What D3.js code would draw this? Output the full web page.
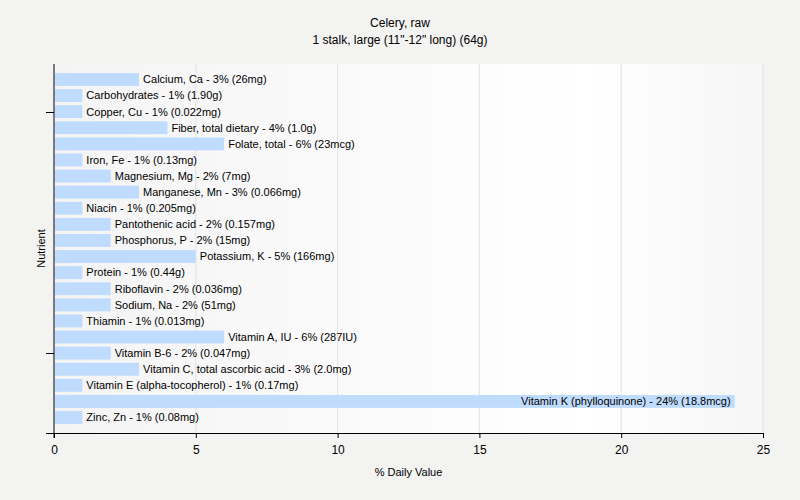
<!DOCTYPE html>
<html lang="en">
<head>
  <meta charset="UTF-8">
  <script src="https://d3js.org/d3.v7.min.js"></script>
  <style>
    body { margin: 0; background: #f3f3f2; }
    text { font-family: "Liberation Sans", Arial, sans-serif; fill: #000; }
  </style>
</head>
<body>
  <script>
    // data
    var nutrients = ["Calcium, Ca", "Carbohydrates", "Copper, Cu", "Fiber, total dietary",
      "Folate, total", "Iron, Fe", "Magnesium, Mg", "Manganese, Mn", "Niacin",
      "Pantothenic acid", "Phosphorus, P", "Potassium, K", "Protein", "Riboflavin",
      "Sodium, Na", "Thiamin", "Vitamin A, IU", "Vitamin B-6", "Vitamin C, total ascorbic acid",
      "Vitamin E (alpha-tocopherol)", "Vitamin K (phylloquinone)", "Zinc, Zn"];
    var dailyValue = [3, 1, 1, 4, 6, 1, 2, 3, 1, 2, 2, 5, 1, 2, 2, 1, 6, 2, 3, 1, 24, 1];
    var amounts = ["26mg", "1.90g", "0.022mg", "1.0g", "23mcg", "0.13mg", "7mg", "0.066mg",
      "0.205mg", "0.157mg", "15mg", "166mg", "0.44g", "0.036mg", "51mg", "0.013mg",
      "287IU", "0.047mg", "2.0mg", "0.17mg", "18.8mcg", "0.08mg"];
    var xTicks = [0, 5, 10, 15, 20, 25];
    var yTickNames = ["Copper, Cu", "Vitamin B-6"];

    var W = 800, H = 500;
    var margin = { top: 64, right: 37, bottom: 67, left: 54 };
    var w = W - margin.left - margin.right;
    var h = H - margin.top - margin.bottom;

    var dataset = nutrients.map(function (n, i) {
      return { name: n, dv: dailyValue[i], amt: amounts[i] };
    });

    var svg = d3.select("body").append("svg")
      .attr("width", W).attr("height", H);

    var defs = svg.append("defs");
    var grad = defs.append("linearGradient").attr("id", "bg")
      .attr("x1", "0").attr("x2", "1").attr("y1", "0").attr("y2", "0");
    grad.append("stop").attr("offset", "0").attr("stop-color", "#f4f4f4");
    grad.append("stop").attr("offset", "0.75").attr("stop-color", "#ffffff");
    grad.append("stop").attr("offset", "1").attr("stop-color", "#f6f6f6");

    var xScale = d3.scaleLinear().domain([0, 25]).range([0, w]);
    var yScale = d3.scaleBand().domain(nutrients).range([0, h]).paddingInner(0.2).paddingOuter(0.56);

    var g = svg.append("g")
      .attr("transform", "translate(" + margin.left + "," + margin.top + ")");

    g.append("rect").attr("width", w).attr("height", h).attr("fill", "url(#bg)");

    // grid
    g.selectAll("line.grid")
      .data(xTicks.slice(1))
      .enter().append("line")
      .attr("class", "grid")
      .attr("x1", function (d) { return xScale(d); })
      .attr("x2", function (d) { return xScale(d); })
      .attr("y1", 0).attr("y2", h)
      .attr("stroke", "#e2e2e2");

    g.selectAll("rect.bar")
      .data(dataset)
      .enter().append("rect")
      .attr("class", "bar")
      .attr("x", 1)
      .attr("y", function (d) { return yScale(d.name); })
      .attr("width", function (d) { return xScale(d.dv) - 1; })
      .attr("height", yScale.bandwidth())
      .attr("fill", "#bfdbfd");

    g.selectAll("text.lbl")
      .data(dataset)
      .enter().append("text")
      .attr("class", "lbl")
      .attr("font-size", "11px")
      .attr("dy", "0.35em")
      .attr("y", function (d) { return yScale(d.name) + yScale.bandwidth() / 2; })
      .attr("x", function (d) {
        return d.dv > 20 ? xScale(d.dv) - 4 : xScale(d.dv) + 4;
      })
      .attr("text-anchor", function (d) { return d.dv > 20 ? "end" : "start"; })
      .text(function (d) { return d.name + " - " + d.dv + "% (" + d.amt + ")"; });

    // axes
    var xAxis = d3.axisBottom(xScale).tickValues(xTicks).tickSize(5).tickSizeOuter(0);
    var xg = g.append("g").attr("transform", "translate(0," + h + ")").call(xAxis);
    xg.selectAll("text").attr("font-size", "12px").attr("dy", "1.1em");

    var yg = g.append("g");
    yg.append("line").attr("x1", 0).attr("x2", 0).attr("y1", 0).attr("y2", h + 5).attr("stroke", "#000");
    yg.selectAll("line.yt")
      .data(yTickNames)
      .enter().append("line")
      .attr("class", "yt")
      .attr("x1", -8).attr("x2", 0)
      .attr("y1", function (d) { return Math.round(yScale(d) + yScale.bandwidth() / 2) + 0.5; })
      .attr("y2", function (d) { return Math.round(yScale(d) + yScale.bandwidth() / 2) + 0.5; })
      .attr("stroke", "#000");
    xg.select(".domain").attr("stroke", "#000");
    xg.append("line").attr("x1", -8).attr("x2", 0).attr("y1", 0.5).attr("y2", 0.5).attr("stroke", "#000");

    // titles
    svg.append("text").attr("x", 400).attr("y", 27).attr("text-anchor", "middle")
      .attr("font-size", "12px").text("Celery, raw");
    svg.append("text").attr("x", 400).attr("y", 44).attr("text-anchor", "middle")
      .attr("font-size", "12px").text("1 stalk, large (11\"-12\" long) (64g)");
    svg.append("text").attr("x", margin.left + w / 2).attr("y", 476).attr("text-anchor", "middle")
      .attr("font-size", "11px").text("% Daily Value");
    svg.append("text").attr("transform", "translate(45," + (margin.top + h / 2) + ") rotate(-90)")
      .attr("text-anchor", "middle").attr("font-size", "11px").text("Nutrient");
  </script>
</body>
</html>
